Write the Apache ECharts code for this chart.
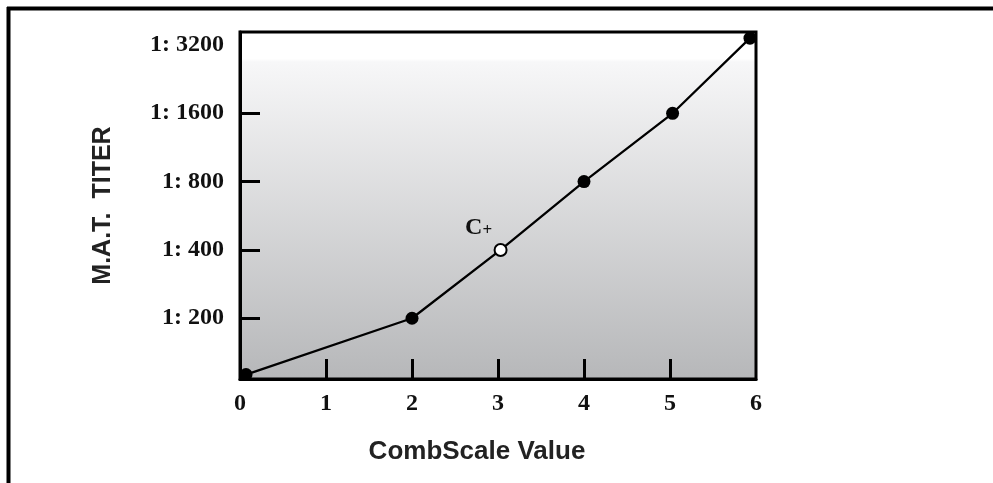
<!DOCTYPE html>
<html>
<head>
<meta charset="utf-8">
<script src="https://cdn.jsdelivr.net/npm/echarts@6/dist/echarts.min.js"></script>
<style>
html,body{margin:0;padding:0;background:#fff;}
#chart{width:993px;height:483px;}
</style>
</head>
<body>
<div id="chart"></div>
<script>
// Data
var combScale = [0.07, 2, 3.03, 4, 5.03, 5.93];
var titers = [113, 200, 400, 800, 1600, 3430];
var controlIndex = 2;            // the open "C+" point
var controlLabel = 'C+';
var yTickTiters = [200, 400, 800, 1600, 3200];
var yTickMarks = [200, 400, 800, 1600];
var xTickLabels = [0, 1, 2, 3, 4, 5, 6];
var xTickMarks = [1, 2, 3, 4, 5];
var yMinTiter = 108, yMaxTiter = 3650;

function toLog(v) { return Math.log2(v / 100); }

var points = combScale.map(function (x, i) {
  var p = { value: [x, toLog(titers[i])] };
  if (i === controlIndex) {
    p.symbolSize = 12;
    p.itemStyle = { color: '#fff', borderColor: '#000', borderWidth: 2 };
    p.label = {
      show: true, formatter: '{c|C}{p|+}', position: 'top', offset: [-22, 2],
      rich: {
        c: { fontFamily: 'Liberation Serif', fontSize: 24, fontWeight: 'bold', color: '#111' },
        p: { fontFamily: 'Liberation Serif', fontSize: 17, fontWeight: 'bold', color: '#111', padding: [5, 0, 0, 0] }
      }
    };
  }
  return p;
});

var serif = { fontFamily: 'Liberation Serif', fontSize: 24, fontWeight: 'bold', color: '#111' };

var chart = echarts.init(document.getElementById('chart'));
chart.setOption({
  animation: false,
  backgroundColor: '#fff',
  grid: {
    left: 240, top: 32, right: 237, bottom: 104,
    show: true, borderColor: '#000', borderWidth: 3,
    backgroundColor: {
      type: 'linear', x: 0, y: 0, x2: 0, y2: 1,
      colorStops: [
        { offset: 0, color: '#ffffff' },
        { offset: 0.08, color: '#ffffff' },
        { offset: 0.09, color: '#f7f7f8' },
        { offset: 1, color: '#b6b7b9' }
      ]
    }
  },
  xAxis: {
    type: 'value', min: 0, max: 6, interval: 1,
    axisLine: { show: true, lineStyle: { color: '#000', width: 3 } },
    axisTick: { show: true, inside: true, length: 20, customValues: xTickMarks, lineStyle: { color: '#000', width: 3 } },
    axisLabel: Object.assign({ margin: 13, customValues: xTickLabels }, serif),
    splitLine: { show: false },
    name: 'CombScale Value', nameLocation: 'middle', nameGap: 60,
    nameTextStyle: { fontFamily: 'Liberation Sans', fontWeight: 'bold', fontSize: 26, color: '#222', padding: [0, 42, 0, 0] }
  },
  yAxis: {
    type: 'value', min: toLog(yMinTiter), max: toLog(yMaxTiter),
    axisLine: { show: true, lineStyle: { color: '#000', width: 3 } },
    axisTick: { show: true, inside: true, length: 20, customValues: yTickMarks.map(toLog), lineStyle: { color: '#000', width: 3 } },
    axisLabel: Object.assign({
      margin: 16, customValues: yTickTiters.map(toLog),
      formatter: function (v) { return '1: ' + Math.round(100 * Math.pow(2, v)); }
    }, serif),
    splitLine: { show: false },
    name: 'M.A.T.  TITER', nameLocation: 'middle', nameGap: 124, nameRotate: 90,
    nameTextStyle: { fontFamily: 'Liberation Sans', fontWeight: 'bold', fontSize: 25, color: '#222' }
  },
  series: [{
    type: 'line',
    data: points,
    symbol: 'circle', symbolSize: 13,
    itemStyle: { color: '#000' },
    lineStyle: { color: '#000', width: 2.3 },
    z: 5
  }],
  graphic: [
    { type: 'line', shape: { x1: 7, y1: 8.5, x2: 993, y2: 8.5 }, style: { stroke: '#000', lineWidth: 4 } },
    { type: 'line', shape: { x1: 8.5, y1: 7, x2: 8.5, y2: 483 }, style: { stroke: '#000', lineWidth: 4 } }
  ]
});
</script>
</body>
</html>
